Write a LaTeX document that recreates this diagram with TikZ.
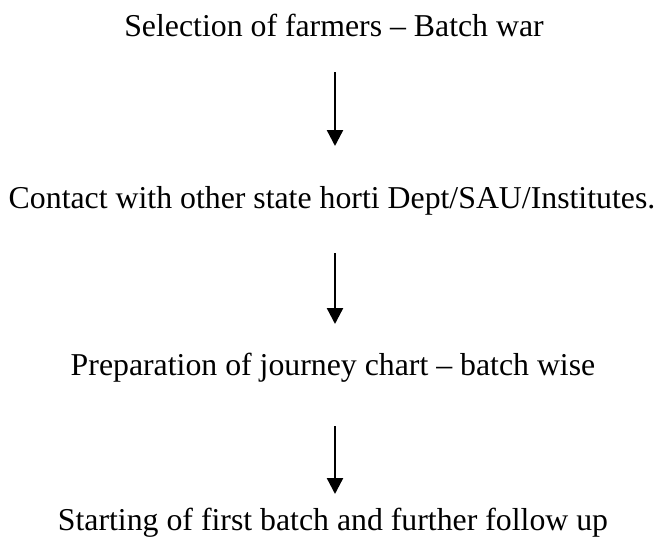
\documentclass[tikz,border=0pt]{standalone}
\usepackage{fontspec}
\setmainfont{Liberation Serif}
\usetikzlibrary{arrows.meta}
\begin{document}
\begin{tikzpicture}[x=1pt,y=-1pt,
  lbl/.style={anchor=base,inner sep=0pt,font=\fontsize{31.8}{36}\selectfont},
  flow/.style={line width=2.4pt,-{Triangle[length=16pt,width=16pt]}}]
\useasboundingbox (0,0) rectangle (663,538);
\node[lbl] (t1) at (334,36) {Selection of farmers -- Batch war};
\node[lbl] (t2) at (332,208) {Contact with other state horti Dept/SAU/Institutes.};
\node[lbl] (t3) at (333,375) {Preparation of journey chart -- batch wise};
\node[lbl] (t4) at (333,530) {Starting of first batch and further follow up};
\coordinate (a1s) at (335,72); \coordinate (a1e) at (335,146);
\coordinate (a2s) at (335,253); \coordinate (a2e) at (335,324);
\coordinate (a3s) at (335,426); \coordinate (a3e) at (335,494);
\draw[flow] (a1s) -- (a1e);
\draw[flow] (a2s) -- (a2e);
\draw[flow] (a3s) -- (a3e);
\end{tikzpicture}
\end{document}
